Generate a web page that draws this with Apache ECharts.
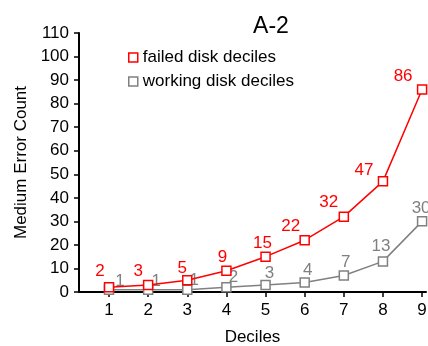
<!DOCTYPE html>
<html>
<head>
<meta charset="utf-8">
<script src="https://cdn.jsdelivr.net/npm/echarts@6/dist/echarts.min.js"></script>
<style>
  html, body { margin: 0; padding: 0; background: #fff; }
  #chart { width: 428px; height: 346px; }
</style>
</head>
<body>
<div id="chart"></div>
<script>
// Medium error counts per decile, failed vs. working disks
const deciles = [1, 2, 3, 4, 5, 6, 7, 8, 9];
const failedCounts = [2, 3, 5, 9, 15, 22, 32, 47, 86];
const workingCounts = [1, 1, 1, 2, 3, 4, 7, 13, 30];
const yTicks = [0, 10, 20, 30, 40, 50, 60, 70, 80, 90, 100, 110];

// label nudges (pixels) so the value texts sit clear of the lines
const failedLabelShift = [[-9, -16], [-10, -14], [-5, -12], [-4, -13], [-3, -13], [-14, -14], [-15, -14], [-19, -11], [-19, -13]];
const workingLabelShift = [[11, -8], [8, -8], [7, -9], [7, -10], [4, -12], [3, -12], [2, -13], [-2, -15], [-1, -13]];

const FONT = '"Liberation Sans", Arial, Helvetica, sans-serif';
const RED = '#ff0000';
const GRAY = '#808080';

function points(values, shifts) {
  return deciles.map((d, i) => ({
    value: [d, values[i]],
    label: { offset: shifts[i] }
  }));
}

const chart = echarts.init(document.getElementById('chart'), null, { renderer: 'canvas' });

chart.setOption({
  animation: false,
  backgroundColor: '#fff',
  textStyle: { fontFamily: FONT },
  title: {
    text: 'A-2',
    left: 266,
    textAlign: 'center',
    top: 10,
    textStyle: { fontFamily: FONT, fontSize: 23, fontWeight: 'normal', color: '#000' }
  },
  legend: {
    orient: 'vertical',
    left: 123,
    top: 44,
    itemWidth: 9,
    itemHeight: 9,
    itemGap: 7,
    icon: 'rect',
    textStyle: { fontFamily: FONT, fontSize: 17, color: '#000' },
    data: [
      { name: 'failed disk deciles', itemStyle: { color: '#fff', borderColor: RED, borderWidth: 1.5 } },
      { name: 'working disk deciles', itemStyle: { color: '#fff', borderColor: GRAY, borderWidth: 1.5 } }
    ]
  },
  grid: { left: 79, right: 2, top: 33, bottom: 54, containLabel: false, outerBoundsMode: 'none' },
  xAxis: {
    type: 'value',
    min: 0.233,
    max: 9.1,
    name: 'Deciles',
    nameLocation: 'middle',
    nameGap: 37,
    nameTextStyle: { fontFamily: FONT, fontSize: 17, color: '#000' },
    splitLine: { show: false },
    axisLine: { show: true, onZero: false, lineStyle: { color: '#000', width: 2 } },
    axisTick: { show: true, customValues: deciles, length: 5, lineStyle: { color: '#000', width: 1.5 } },
    axisLabel: { customValues: deciles, fontFamily: FONT, fontSize: 17, color: '#000', margin: 10 }
  },
  yAxis: {
    type: 'value',
    min: 0,
    max: 110,
    interval: 10,
    name: 'Medium Error Count',
    nameLocation: 'middle',
    nameGap: 46,
    nameTextStyle: { fontFamily: FONT, fontSize: 17, color: '#000' },
    splitLine: { show: false },
    axisLine: { show: true, lineStyle: { color: '#000', width: 2 } },
    axisTick: { show: true, length: 5, lineStyle: { color: '#000', width: 1.5 } },
    axisLabel: {
      fontFamily: FONT, fontSize: 17, color: '#000', margin: 10,
      formatter: v => (yTicks.includes(v) ? String(v) : '')
    }
  },
  series: [
    {
      name: 'failed disk deciles',
      type: 'line',
      data: points(failedCounts, failedLabelShift),
      symbol: 'rect',
      symbolSize: 9,
      z: 3,
      lineStyle: { color: RED, width: 1.5 },
      itemStyle: { color: '#fff', borderColor: RED, borderWidth: 1.5 },
      label: {
        show: true,
        position: 'inside',
        fontFamily: FONT,
        fontSize: 17,
        color: RED,
        formatter: p => String(p.value[1])
      }
    },
    {
      name: 'working disk deciles',
      type: 'line',
      data: points(workingCounts, workingLabelShift),
      symbol: 'rect',
      symbolSize: 9,
      z: 2,
      lineStyle: { color: GRAY, width: 1.5 },
      itemStyle: { color: '#fff', borderColor: GRAY, borderWidth: 1.5 },
      label: {
        show: true,
        position: 'inside',
        fontFamily: FONT,
        fontSize: 17,
        color: GRAY,
        formatter: p => String(p.value[1])
      }
    }
  ]
});
</script>
</body>
</html>
